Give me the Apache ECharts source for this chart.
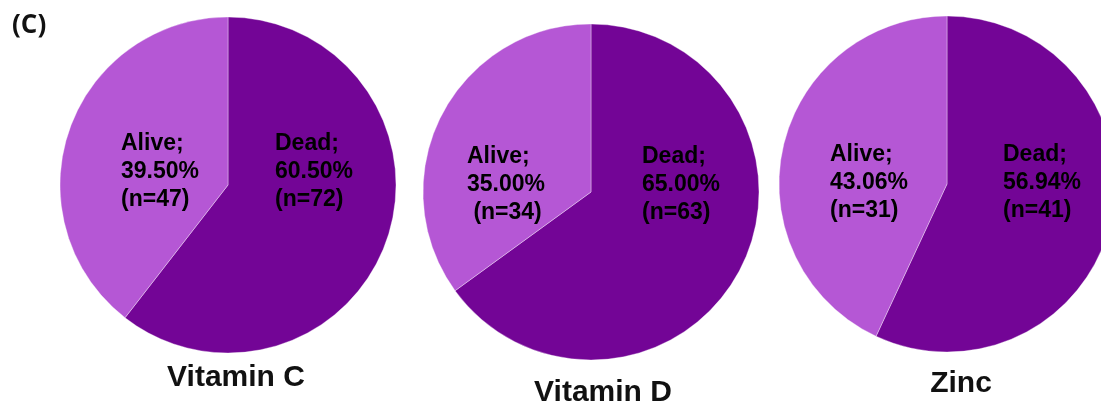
<!DOCTYPE html>
<html>
<head>
<meta charset="utf-8">
<script src="https://cdn.jsdelivr.net/npm/echarts@6/dist/echarts.min.js"></script>
<style>
  html, body { margin: 0; padding: 0; background: #fff; }
  #chart { width: 1101px; height: 404px; }
</style>
</head>
<body>
<div id="chart"></div>
<script>
// data
var pieNames = ['Vitamin C', 'Vitamin D', 'Zinc'];
var deadPct = [60.50, 65.00, 56.94];
var alivePct = [39.50, 35.00, 43.06];
var deadN = [72, 63, 41];
var aliveN = [47, 34, 31];

var chart = echarts.init(document.getElementById('chart'));

// layout of each pie (px)
var centers = [[228, 185], [591, 192], [947, 184]];
var radius = 168;
// label anchor offsets from the centre: [alive, dead]
var labelOffs = [
  [[-107, -13], [47, -13]],
  [[-124, -7], [51, -7]],
  [[-117, -1], [56, -1]]
];
var titlePos = [[236, 363], [603, 378], [961, 369]];

var series = pieNames.map(function (name, i) {
  var c = centers[i];
  return {
    type: 'pie',
    name: name,
    center: c,
    radius: radius,
    startAngle: 90,
    clockwise: true,
    silent: true,
    data: [
      { name: 'Dead', value: deadPct[i], n: deadN[i], itemStyle: { color: '#730596' } },
      { name: 'Alive', value: alivePct[i], n: aliveN[i], itemStyle: { color: '#b557d5' } }
    ],
    itemStyle: { borderColor: 'rgba(255,255,255,0.35)', borderWidth: 1 },
    label: {
      show: true,
      position: 'inside',
      color: '#000',
      fontFamily: 'Arial',
      fontWeight: 'bold',
      fontSize: 23,
      lineHeight: 28,
      align: 'left',
      formatter: function (p) {
        var pad = (i === 1 && p.name === 'Alive') ? ' ' : '';
        return p.name + ';\n' + p.value.toFixed(2) + '%\n' + pad + '(n=' + p.data.n + ')';
      }
    },
    labelLine: { show: false },
    labelLayout: function (p) {
      var o = labelOffs[i][p.dataIndex === 0 ? 1 : 0];
      return { x: c[0] + o[0], y: c[1] + o[1], align: 'left', verticalAlign: 'middle' };
    }
  };
});

var titles = pieNames.map(function (name, i) {
  return {
    text: name,
    left: titlePos[i][0],
    top: titlePos[i][1],
    textAlign: 'center',
    padding: 0,
    textStyle: {
      fontFamily: 'Arial',
      fontWeight: 'bold',
      fontSize: 30,
      color: '#111'
    }
  };
});
titles.push({
  text: '(C)',
  left: 12,
  top: 13,
  padding: 0,
  textStyle: { fontFamily: 'Open Sans', fontWeight: 'bold', fontSize: 26, color: '#111' }
});

chart.setOption({
  animation: false,
  title: titles,
  series: series
});
</script>
</body>
</html>
